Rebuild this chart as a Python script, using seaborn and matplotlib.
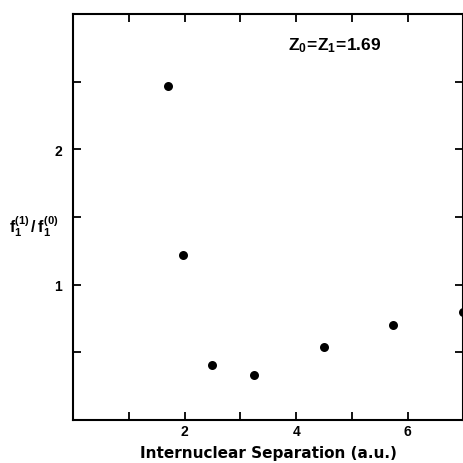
import matplotlib
matplotlib.use('Agg')
import matplotlib.pyplot as plt
import seaborn as sns
import pandas as pd

# values
separation = [1.7, 1.97, 2.5, 3.25, 4.5, 5.73, 7.0]
ratio = [2.47, 1.22, 0.41, 0.33, 0.54, 0.70, 0.80]
x_ticks = [1, 2, 3, 4, 5, 6]
x_tick_labels = ['', '2', '', '4', '', '6']
y_ticks = [0.5, 1.0, 1.5, 2.0, 2.5]
y_tick_labels = ['', '1', '', '2', '']

df = pd.DataFrame({'R': separation, 'ratio': ratio})

sns.set_theme(style='white')
plt.rcParams['font.family'] = ['Liberation Sans', 'DejaVu Sans']
plt.rcParams['font.weight'] = 'bold'
plt.rcParams['text.color'] = 'black'
plt.rcParams['mathtext.fontset'] = 'custom'
plt.rcParams['mathtext.rm'] = 'Liberation Sans:bold'
plt.rcParams['mathtext.it'] = 'Liberation Sans:bold'
plt.rcParams['mathtext.bf'] = 'Liberation Sans:bold'

fig = plt.figure(figsize=(4.64, 4.64), dpi=100)
ax = fig.add_axes([73 / 464, 1 - 421 / 464, (463.5 - 73) / 464, (421 - 15) / 464])

sns.scatterplot(data=df, x='R', y='ratio', ax=ax, color='black', s=42,
                edgecolor='black', linewidth=0, legend=False)

ax.set_xlim(0, 7)
ax.set_ylim(0, 3)
ax.set_xticks(x_ticks)
ax.set_xticklabels(x_tick_labels)
ax.set_yticks(y_ticks)
ax.set_yticklabels(y_tick_labels)
ax.tick_params(direction='in', length=6, width=1.3, top=True, right=True,
               bottom=True, left=True, labelsize=10, colors='black')
ax.tick_params(axis='x', pad=3)
ax.tick_params(axis='y', pad=8)

for sp in ax.spines.values():
    sp.set_linewidth(1.5)
    sp.set_color('black')

ax.set_xlabel('Internuclear Separation (a.u.)', fontsize=11, fontweight='bold',
              family='DejaVu Sans', labelpad=5, color='black')
ax.set_ylabel('')
fig.text(9 / 464, 1 - 227 / 464, r'$\mathrm{f_1^{(1)}\,/\,f_1^{(0)}}$',
         fontsize=11.5, ha='left', va='center')

ax.text(3.86, 2.77, r'$\mathrm{Z_0\!=\!Z_1\!=\!1.69}$', fontsize=12.5,
        ha='left', va='center')

fig.savefig('out.png', dpi=100, facecolor='white')
